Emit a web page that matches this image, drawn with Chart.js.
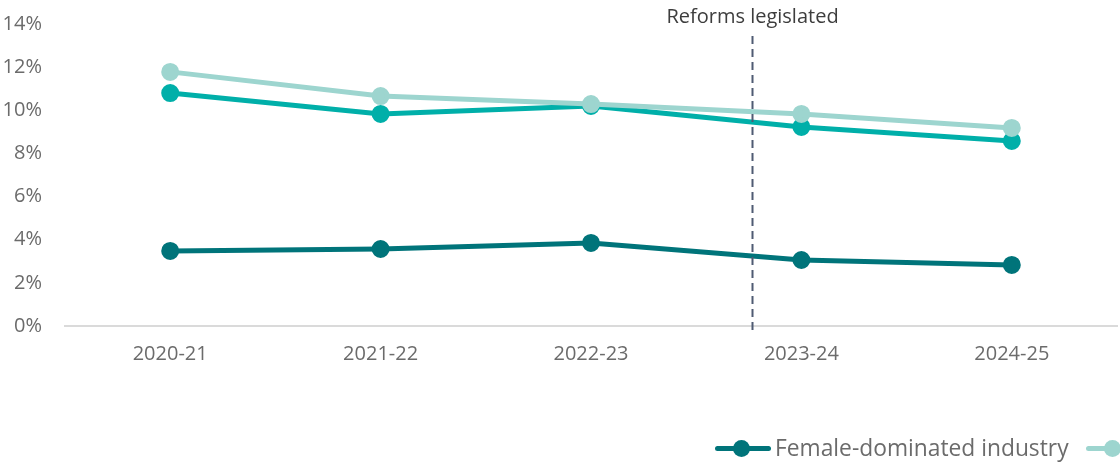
<!DOCTYPE html>
<html>
<head>
<meta charset="utf-8">
<script src="https://cdn.jsdelivr.net/npm/chart.js@4"></script>
<style>
  html, body { margin: 0; padding: 0; background: #fff; overflow: hidden; }
  #wrap { position: relative; width: 1120px; height: 462px; overflow: hidden; }
  #legend {
    position: absolute; left: 715px; top: 432px;
    display: flex; white-space: nowrap;
    font-family: "Open Sans", sans-serif; font-size: 22.8px; color: #6b6b6b;
  }
  .item { display: flex; align-items: center; margin-right: 17px; }
  .swatch { position: relative; width: 56px; height: 28px; margin-right: 4px; flex: none; }
  .swatch .ln { position: absolute; left: 0; right: 0; top: 12px; height: 5px; border-radius: 3px; }
  .swatch .dot { position: absolute; left: 18px; top: 6px; width: 17px; height: 17px; border-radius: 50%; }
</style>
</head>
<body>
<div id="wrap">
  <canvas id="chart" width="1120" height="462"></canvas>
  <div id="legend"></div>
</div>
<script>
// Data
const years = ['2020-21', '2021-22', '2022-23', '2023-24', '2024-25'];
const femaleDominated = [3.48, 3.57, 3.85, 3.06, 2.83];
const maleDominated = [11.78, 10.66, 10.29, 9.83, 9.18];
const mixedIndustry = [10.80, 9.83, 10.20, 9.23, 8.58];
const yTicks = [0, 2, 4, 6, 8, 10, 12, 14];
const reformLabel = 'Reforms legislated';
const reformPosition = 2.765; // between 2022-23 and 2023-24

const FONT = '"Open Sans", sans-serif';

function series(label, data, color) {
    return {
        label: label,
        data: data,
        borderColor: color,
        backgroundColor: color,
        borderWidth: 5,
        pointRadius: 6.5,
        pointHoverRadius: 6.5,
        tension: 0
    };
}

// Dashed vertical marker with its label
const reformLine = {
    id: 'reformLine',
    afterDatasetsDraw(chart) {
        const ctx = chart.ctx;
        const x = Math.round(chart.scales.x.getPixelForValue(reformPosition)) + 0.5;
        ctx.save();
        ctx.strokeStyle = '#4f5b73';
        ctx.lineWidth = 2;
        ctx.setLineDash([8, 5]);
        ctx.beginPath();
        ctx.moveTo(x, 36);
        ctx.lineTo(x, chart.chartArea.bottom + 5);
        ctx.stroke();
        ctx.setLineDash([]);
        ctx.fillStyle = '#3d3d3d';
        ctx.font = '20px ' + FONT;
        ctx.textAlign = 'center';
        ctx.textBaseline = 'middle';
        ctx.fillText(reformLabel, x, 17);
        ctx.restore();
    }
};

const chart = new Chart(document.getElementById('chart'), {
    type: 'line',
    data: {
        labels: years,
        datasets: [
            series('Female-dominated industry', femaleDominated, '#00747a'),
            series('Male-dominated industry', maleDominated, '#9dd5cf'),
            series('Mixed industry', mixedIndustry, '#00afa9')
        ]
    },
    options: {
        responsive: false,
        animation: false,
        layout: { autoPadding: false, padding: { top: 24, right: 3, bottom: 0, left: 0 } },
        plugins: {
            legend: { display: false },
            tooltip: { enabled: false }
        },
        scales: {
            x: {
                offset: true,
                grid: { display: false, drawTicks: false },
                border: { display: true, color: '#dadada', width: 2 },
                ticks: {
                    color: '#6b6b6b',
                    font: { family: FONT, size: 20 },
                    padding: 16,
                    maxRotation: 0
                },
                afterFit(scale) {
                    scale.height = 136;
                    scale.paddingLeft = 0;
                    scale.paddingRight = 0;
                }
            },
            y: {
                min: 0,
                max: 14,
                afterBuildTicks(scale) { scale.ticks = yTicks.map(v => ({ value: v })); },
                grid: { display: false, drawTicks: false },
                border: { display: false },
                ticks: {
                    color: '#6b6b6b',
                    font: { family: FONT, size: 20 },
                    padding: 23,
                    callback: v => v + '%'
                },
                afterFit(scale) {
                    scale.width = 65;
                    scale.paddingTop = 0;
                    scale.paddingBottom = 0;
                }
            }
        }
    },
    plugins: [reformLine]
});

// HTML legend built from the chart datasets (overflows the right edge like the original)
const legend = document.getElementById('legend');
chart.data.datasets.forEach(ds => {
    const item = document.createElement('div');
    item.className = 'item';
    item.innerHTML = `<span class="swatch"><span class="ln" style="background:${ds.borderColor}"></span>` +
        `<span class="dot" style="background:${ds.borderColor}"></span></span><span>${ds.label}</span>`;
    legend.appendChild(item);
});
</script>
</body>
</html>
